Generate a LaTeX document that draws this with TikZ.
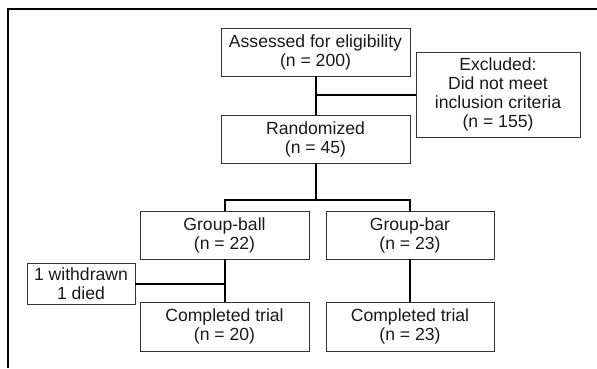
\documentclass[tikz,border=0pt]{standalone}
\usepackage{fontspec}
\setmainfont{Liberation Sans}
\usetikzlibrary{calc}

\tikzset{
  stagebox/.style={draw=black!80, line width=0.9pt, align=center, inner sep=2pt,
    font=\fontsize{17.6}{19}\selectfont, text=black!90},
  link/.style={line width=2pt, black}
}

\begin{document}
\begin{tikzpicture}[x=1pt,y=-1pt]

	\useasboundingbox (0,0) rectangle (597,368);

	% Draw the frame (only left and top edges show)
	\draw[line width=1.6pt] (8,368) -- (8,9) -- (597,9);

	% Draw the enrolment boxes
	\node[stagebox, minimum width=189pt, minimum height=48pt] (assess) at (315.5,52) {Assessed for eligibility\\(n = 200)};
	\node[stagebox, minimum width=164pt, minimum height=85pt] (excl) at (498,94.5) {Excluded:\\Did not meet\\inclusion criteria\\(n = 155)};
	\node[stagebox, minimum width=189pt, minimum height=48pt] (rand) at (315.5,139) {Randomized\\(n = 45)};

	% Draw the two arms
	\node[stagebox, minimum width=169pt, minimum height=48pt] (ball) at (224.5,235) {Group-ball\\(n = 22)};
	\node[stagebox, minimum width=168pt, minimum height=48pt] (bar) at (410,235) {Group-bar\\(n = 23)};
	\node[stagebox, minimum width=108pt, minimum height=41pt] (lost) at (81,283.5) {1 withdrawn\\1 died};
	\node[stagebox, minimum width=169pt, minimum height=49pt] (doneball) at (224.5,326.5) {Completed trial\\(n = 20)};
	\node[stagebox, minimum width=168pt, minimum height=49pt] (donebar) at (410,326.5) {Completed trial\\(n = 23)};

	% Draw the connectors
	\coordinate (split) at (315.5,200);
	\draw[link] (assess.south) -- (rand.north);
	\draw[link] (excl.west) -- (excl.west -| assess.south);
	\draw[link] (rand.south) -- (split);
	\draw[link] (ball.north) |- (split) -| (bar.north);
	\draw[link] (ball.south) -- (doneball.north);
	\draw[link] (lost.east) -- (lost.east -| ball.south);
	\draw[link] (bar.south) -- (donebar.north);

\end{tikzpicture}
\end{document}
